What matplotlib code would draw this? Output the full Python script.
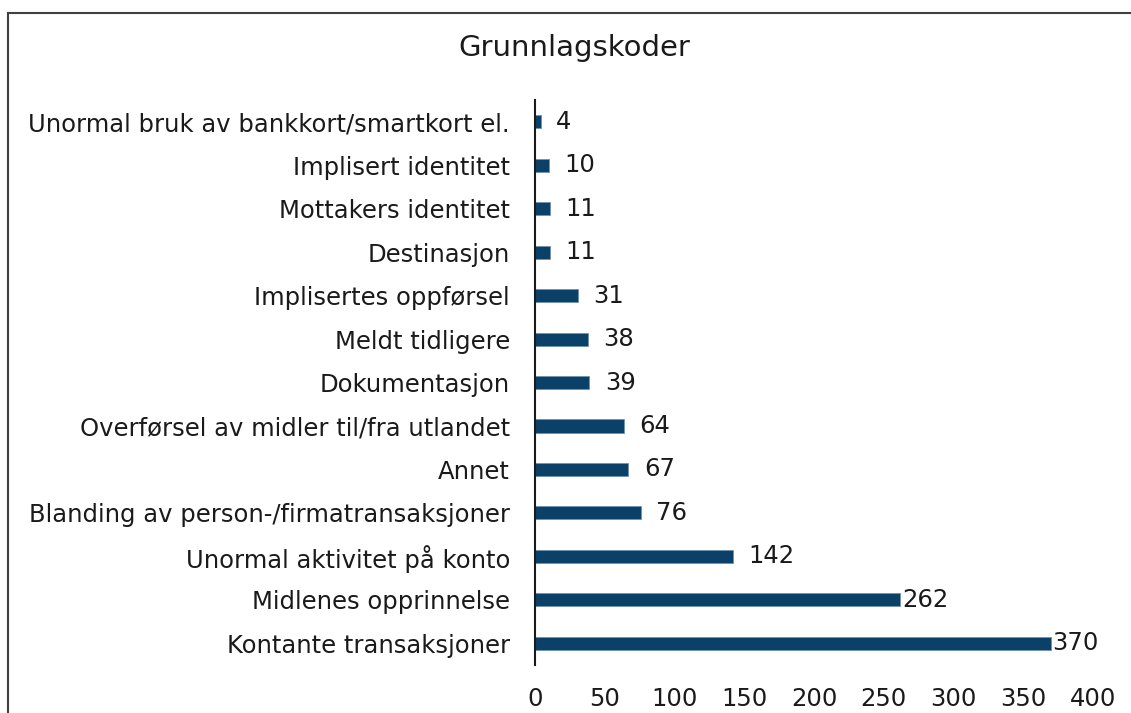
import matplotlib.pyplot as plt
from matplotlib.lines import Line2D

# data, top to bottom as shown in the chart
categories = [
    'Unormal bruk av bankkort/smartkort el.',
    'Implisert identitet',
    'Mottakers identitet',
    'Destinasjon',
    'Implisertes oppførsel',
    'Meldt tidligere',
    'Dokumentasjon',
    'Overførsel av midler til/fra utlandet',
    'Annet',
    'Blanding av person-/firmatransaksjoner',
    'Unormal aktivitet på konto',
    'Midlenes opprinnelse',
    'Kontante transaksjoner',
]
values = [4, 10, 11, 11, 31, 38, 39, 64, 67, 76, 142, 262, 370]
xticks = [0, 50, 100, 150, 200, 250, 300, 350, 400]

bar_color = '#0b4168'
fs = 17.5

plt.rcParams['font.family'] = ['DejaVu Sans']

fig = plt.figure(figsize=(11.31, 7.13), dpi=100)
ax = fig.add_axes([0.473, 0.0673, 0.4934, 0.7924])

ypos = list(range(len(categories)))
ax.barh(ypos, values, height=0.3, color=bar_color, edgecolor='#6f93ad', linewidth=0.6)
ax.set_ylim(len(categories) - 0.5, -0.5)
ax.set_xlim(0, 400)
ax.set_yticks(ypos)
ax.set_yticklabels(categories, fontsize=fs, color='#1a1a1a')
ax.set_xticks(xticks)
ax.set_xticklabels([str(t) for t in xticks], fontsize=fs, color='#1a1a1a')
ax.tick_params(axis='y', length=0, pad=18)
ax.tick_params(axis='x', length=0, pad=16)

for s in ['top', 'right', 'bottom']:
    ax.spines[s].set_visible(False)
ax.spines['left'].set_color('#1a1a1a')
ax.spines['left'].set_linewidth(1.5)

# value labels, Excel puts the long ones right up against the bar
for y, v in zip(ypos, values):
    off = 1 if v > 200 else 11
    ax.text(v + off, y, str(v), va='center', ha='left', fontsize=fs, color='#1a1a1a')

fig.text(0.508, 0.932, 'Grunnlagskoder', ha='center', va='center', fontsize=21, color='#1a1a1a')

# chart area border (only top and left visible in the crop)
fig.add_artist(Line2D([8/1131, 1], [1 - 13/713, 1 - 13/713], color='#404040', lw=1.5))
fig.add_artist(Line2D([8/1131, 8/1131], [0, 1 - 13/713], color='#404040', lw=1.5))

fig.savefig('out.png', dpi=100)
